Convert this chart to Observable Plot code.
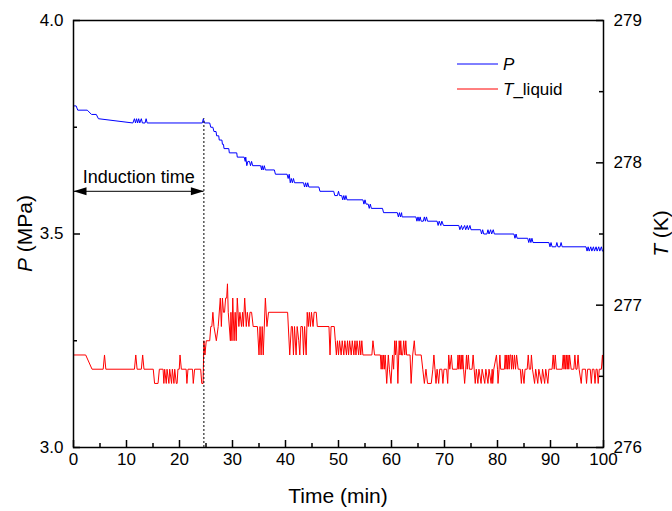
<!DOCTYPE html>
<html><head><meta charset="utf-8">
<script src="https://cdn.jsdelivr.net/npm/d3@7"></script>
<script src="https://cdn.jsdelivr.net/npm/@observablehq/plot@0.6"></script>
<style>body{margin:0;background:#fff}#chart{width:672px;height:511px}</style>
</head><body><div id="chart"></div>
<script>
// ---- data: [time (min), value] ----
const pressure = [
[0,3.80],[0.5,3.80],[0.8,3.79],[2.6,3.79],[3.4,3.78],[4.3,3.78],[4.7,3.77],[11.2,3.76],
[11.5,3.77],[11.7,3.76],[11.9,3.77],[12.1,3.76],[12.3,3.77],[12.5,3.76],[12.8,3.77],[13.0,3.76],[13.5,3.76],[13.7,3.77],[13.9,3.76],
[24.3,3.76],[24.5,3.77],[24.7,3.76],
[25.7,3.76],[25.9,3.75],[26.3,3.75],[26.5,3.74],[26.9,3.74],[27.0,3.73],[27.4,3.73],[27.5,3.72],[28.0,3.72],[28.1,3.71],[28.3,3.71],[28.4,3.70],[29.3,3.70],[29.4,3.69],[30.8,3.69],[30.9,3.68],
[32.2,3.68],[32.4,3.67],[32.5,3.68],[32.7,3.66],[32.9,3.67],[33.2,3.67],[33.4,3.66],[33.6,3.67],[33.8,3.66],
[35.3,3.66],[35.5,3.65],[35.6,3.66],[35.8,3.65],[36.0,3.66],[36.2,3.65],
[37.9,3.65],[38.1,3.64],[40.3,3.64],[40.5,3.63],[40.7,3.64],[40.9,3.62],[41.1,3.63],[41.3,3.62],[41.5,3.63],[41.7,3.62],
[43.4,3.62],[43.6,3.61],[43.8,3.62],[44.0,3.61],[44.2,3.62],[44.4,3.61],
[46.3,3.61],[46.5,3.60],[49.1,3.60],[49.3,3.59],[49.8,3.59],[50.0,3.60],[50.2,3.59],
[50.6,3.59],[50.8,3.58],[51.0,3.59],[51.2,3.58],[51.4,3.59],[51.6,3.58],
[54.6,3.58],[54.8,3.57],[55.0,3.58],[55.2,3.57],[55.6,3.57],[55.8,3.56],[56.0,3.57],[56.2,3.56],[58.3,3.56],[58.5,3.55],
[61.1,3.55],[61.3,3.54],[61.5,3.55],[61.7,3.54],[61.9,3.55],[62.0,3.54],
[64.6,3.54],[64.8,3.53],[65.0,3.54],[65.2,3.53],[65.4,3.54],[65.6,3.53],[66.0,3.53],[66.2,3.54],[66.4,3.53],[66.6,3.54],[66.8,3.53],
[68.6,3.53],[68.8,3.52],[69.0,3.53],[69.3,3.52],[69.5,3.53],[69.8,3.52],
[72.7,3.52],[72.9,3.51],[73.2,3.52],[73.4,3.51],[73.8,3.52],[74.0,3.51],[74.3,3.52],[74.5,3.51],[74.8,3.52],[75.0,3.51],
[76.8,3.51],[77.0,3.50],[77.2,3.51],[77.4,3.50],[78.0,3.50],[78.2,3.51],[78.4,3.50],[78.7,3.51],[78.9,3.50],[79.2,3.51],[79.4,3.50],
[83.1,3.50],[83.3,3.49],[83.5,3.50],[83.7,3.49],
[85.7,3.49],[85.9,3.48],[86.1,3.49],[86.3,3.48],[86.5,3.49],[86.7,3.48],
[89.7,3.48],[89.9,3.47],[90.1,3.48],[90.3,3.47],[91.0,3.47],[91.2,3.48],[91.4,3.47],[91.8,3.47],[92.0,3.48],[92.2,3.47],
[96.7,3.47],[96.9,3.46],[97.1,3.47],[97.3,3.46],[97.6,3.47],[97.8,3.46],[98.1,3.47],[98.3,3.46],[98.6,3.47],[98.8,3.46],[99.1,3.47],[99.3,3.46],[99.6,3.47],[99.8,3.46],[100,3.46]
];
const temperature = [
[0,276.65],[2.3,276.65],[3.5,276.55],[5.6,276.55],[5.85,276.65],[6.1,276.55],
[11.5,276.55],[11.75,276.65],[12.0,276.55],[12.8,276.55],[13.05,276.65],[13.3,276.55],
[15.05,276.55],[15.3,276.45],[15.95,276.45],[16.2,276.55],[16.9,276.55],
[17.05,276.45],[17.2,276.55],[17.5,276.45],[17.65,276.55],[18.0,276.45],[18.15,276.55],[18.5,276.45],[18.65,276.55],[18.95,276.45],[19.1,276.55],[19.4,276.45],[19.55,276.45],[19.7,276.55],
[19.95,276.55],[20.1,276.65],[20.35,276.55],[21.25,276.55],[21.4,276.45],[21.6,276.55],[22.45,276.55],[22.6,276.45],[22.85,276.55],[24.0,276.55],[24.2,276.45],[24.45,276.45],
[24.6,276.75],[24.8,276.65],[25.05,276.75],[25.7,276.75],[25.9,276.85],[26.1,276.85],[26.3,276.95],[26.5,276.85],[26.95,276.75],[27.3,276.85],[27.7,277.05],[27.9,276.85],[28.1,277.05],[28.3,276.95],[28.5,276.95],[28.7,277.05],[28.9,277.05],[29.05,277.15],[29.2,276.95],[29.6,276.75],[29.7,276.95],[29.9,276.75],[30.05,277.05],[30.3,276.75],[30.5,276.95],[30.7,276.75],[30.9,277.05],[31.2,276.85],[31.4,276.95],[31.7,276.85],[31.9,276.95],[32.05,276.85],[32.3,277.05],[32.6,276.85],[32.8,276.95],[33.1,276.85],[33.3,276.95],[33.6,276.95],[33.9,276.85],[34.7,276.85],[35.0,276.65],[35.2,276.85],[35.4,276.65],[35.6,276.85],[35.8,276.65],[36.2,277.05],[36.5,276.85],[36.8,276.95],
[40.4,276.95],[40.8,276.65],[41.1,276.85],[41.3,276.85],[41.5,276.65],[41.7,276.85],[42.0,276.65],[42.2,276.85],[42.5,276.75],[42.7,276.65],[42.9,276.85],[43.2,276.85],[43.4,276.65],[43.6,276.85],[43.9,276.65],[44.1,276.95],[44.3,276.85],[44.5,276.95],[44.7,276.85],[44.9,276.95],[45.2,276.85],[45.4,276.95],[45.8,276.95],[46.0,276.85],[48.2,276.85],[48.4,276.65],[48.6,276.85],[49.2,276.85],[49.4,276.75],
[49.6,276.65],[49.8,276.75],[50.0,276.65],[50.2,276.75],[50.5,276.65],[50.7,276.75],[51.0,276.65],[51.2,276.75],[51.5,276.65],[51.7,276.75],[51.9,276.65],[52.1,276.75],[52.4,276.65],[52.6,276.75],[52.9,276.65],[53.1,276.75],[53.3,276.65],[53.5,276.75],[53.8,276.65],[54.0,276.75],[54.2,276.65],[54.4,276.75],[54.6,276.65],
[56.3,276.65],[56.5,276.75],[56.8,276.65],[57.9,276.65],[58.05,276.55],[58.2,276.65],[58.35,276.55],[58.5,276.65],[58.65,276.55],[58.8,276.65],[58.95,276.55],[59.1,276.45],[59.4,276.65],[59.6,276.55],[59.9,276.45],[60.2,276.65],[60.4,276.55],[60.6,276.75],[60.75,276.65],[60.9,276.75],[61.05,276.65],[61.2,276.45],[61.45,276.75],[61.6,276.65],[61.75,276.75],[61.9,276.65],[62.1,276.65],[62.3,276.75],[62.5,276.65],[62.7,276.75],[62.85,276.65],[63.5,276.65],[63.7,276.45],[64.0,276.65],[64.3,276.75],[64.5,276.65],[65.6,276.65],
[65.9,276.55],[66.2,276.45],[66.5,276.55],[66.8,276.45],[67.5,276.45],[67.8,276.55],[68.0,276.65],[68.2,276.55],[68.4,276.45],[68.6,276.55],[68.9,276.45],[69.1,276.55],[69.5,276.55],[69.7,276.45],[69.9,276.55],[70.4,276.55],[70.6,276.45],[70.8,276.65],[71.0,276.55],[71.3,276.65],[71.5,276.55],
[72.4,276.55],[72.55,276.65],[72.7,276.55],[72.85,276.65],[73.0,276.55],[73.15,276.65],[73.3,276.55],[73.45,276.65],[73.6,276.55],[73.8,276.45],[74.0,276.55],[74.15,276.65],[74.3,276.55],[74.5,276.65],[74.7,276.55],[75.2,276.55],[75.4,276.65],[75.6,276.55],[75.8,276.45],[76.0,276.55],[76.3,276.45],[76.5,276.55],[76.9,276.45],[77.1,276.55],[77.6,276.45],[77.8,276.55],[78.2,276.45],[78.4,276.55],[78.8,276.45],[79.0,276.55],[79.1,276.45],[79.3,276.55],[79.8,276.65],[80.0,276.55],[80.1,276.45],[80.3,276.55],[80.45,276.65],[80.6,276.55],
[81.3,276.55],[81.45,276.65],[81.6,276.55],[81.75,276.65],[81.9,276.55],[82.05,276.65],[82.2,276.55],[82.35,276.65],[82.5,276.65],[82.65,276.55],[82.8,276.65],[83.0,276.55],[83.2,276.65],[83.4,276.55],[83.6,276.65],[83.9,276.55],[84.3,276.55],[84.5,276.45],[84.7,276.55],[85.0,276.45],[85.2,276.55],[85.6,276.55],[85.8,276.65],[86.0,276.55],[86.25,276.55],[86.4,276.65],[86.6,276.55],[87.0,276.45],[87.2,276.55],[87.6,276.45],[87.8,276.55],[88.3,276.45],[88.5,276.55],[88.9,276.45],[89.1,276.55],[89.5,276.45],[89.7,276.55],
[90.3,276.55],[90.5,276.65],[90.7,276.55],[90.9,276.65],[91.1,276.55],[92.2,276.55],[92.4,276.65],[92.55,276.55],[92.7,276.65],[92.85,276.55],[93.0,276.65],[93.15,276.55],[93.3,276.65],[93.45,276.55],[93.6,276.65],[93.9,276.55],[94.4,276.55],[94.6,276.65],[94.8,276.55],[95.0,276.55],[95.2,276.65],[95.4,276.55],[95.8,276.45],[96.0,276.55],[96.6,276.55],[96.8,276.45],[97.0,276.55],[97.5,276.55],[97.7,276.45],[97.9,276.55],[98.2,276.55],[98.4,276.45],[98.6,276.55],[98.8,276.55],[99.0,276.45],[99.2,276.55],[99.6,276.55],[99.8,276.65],[100,276.55]
];
const xMajor = [0,10,20,30,40,50,60,70,80,90,100];
const xMinor = [5,15,25,35,45,55,65,75,85,95];
const pMajor = [3.0,3.5,4.0];
const pMinor = [3.25,3.75];
const tMajor = [276,277,278,279];
const tMinor = [276.5,277.5,278.5];
const inductionEnd = 24.6;   // min
const arrowLevel = 3.6;      // MPa
const dashTop = 3.77;        // MPa
const seriesNames = ["P", "T_liquid"];
const seriesColors = ["#0000ff", "#ff0000"];

// ---- layout ----
const W = 672, H = 511, mL = 73, mR = 69, mT = 20, mB = 64;
const innerW = W - mL - mR, innerH = H - mT - mB;
const FONT = "'Liberation Sans', Arial, Helvetica, sans-serif";
// right axis (K) mapped onto the left axis (MPa): 276 K -> 3.0 MPa, 279 K -> 4.0 MPa
const tToP = t => 3 + (t - 276) / 3;
const pToT = p => 276 + (p - 3) * 3;

const arrowLeft = {draw(c){c.moveTo(0,0);c.lineTo(13,-4);c.lineTo(13,4);c.closePath();}};
const arrowRight = {draw(c){c.moveTo(0,0);c.lineTo(-13,-4);c.lineTo(-13,4);c.closePath();}};

const chart = Plot.plot({
  width: W, height: H,
  marginLeft: mL, marginRight: mR, marginTop: mT, marginBottom: mB,
  x: {domain: [0, 100]},
  y: {domain: [3, 4]},
  style: {fontFamily: FONT, fontSize: "17px", background: "#fff", color: "#000"},
  marks: [
    Plot.line(pressure, {x: d => d[0], y: d => d[1], stroke: seriesColors[0], strokeWidth: 1}),
    Plot.line(temperature, {x: d => d[0], y: d => tToP(d[1]), stroke: seriesColors[1], strokeWidth: 1}),
    Plot.ruleX([inductionEnd], {y1: 3, y2: dashTop, stroke: "#000", strokeWidth: 1, strokeDasharray: "2,2"}),
    Plot.ruleY([arrowLevel], {x1: 0, x2: inductionEnd, stroke: "#000", strokeWidth: 1}),
    Plot.dot([0], {x: d => d, y: arrowLevel, symbol: arrowLeft, fill: "#000", stroke: "none"}),
    Plot.dot([inductionEnd], {x: d => d, y: arrowLevel, symbol: arrowRight, fill: "#000", stroke: "none"}),
    Plot.text(["Induction time"], {x: inductionEnd / 2, y: arrowLevel, dy: -14, text: d => d, fontSize: 18, fill: "#000"}),
    // inward ticks
    Plot.tickX(xMajor, {x: d => d, insetTop: innerH - 7, stroke: "#000", strokeWidth: 1.5}),
    Plot.tickX(xMinor, {x: d => d, insetTop: innerH - 4, stroke: "#000", strokeWidth: 1.5}),
    Plot.tickY(pMajor, {y: d => d, insetRight: innerW - 7, stroke: "#000", strokeWidth: 1.5}),
    Plot.tickY(pMinor, {y: d => d, insetRight: innerW - 4, stroke: "#000", strokeWidth: 1.5}),
    Plot.tickY(tMajor, {y: d => tToP(d), insetLeft: innerW - 7, stroke: "#000", strokeWidth: 1.5}),
    Plot.tickY(tMinor, {y: d => tToP(d), insetLeft: innerW - 4, stroke: "#000", strokeWidth: 1.5}),
    Plot.axisX(xMajor, {tickSize: 0, tickPadding: 5, label: null, fill: "#000", fontSize: 17}),
    Plot.axisY(pMajor, {anchor: "left", tickSize: 0, tickPadding: 10, tickFormat: d3.format(".1f"), label: null, fill: "#000", fontSize: 17}),
    Plot.axisY(tMajor.map(tToP), {anchor: "right", tickSize: 0, tickPadding: 10, tickFormat: p => String(Math.round(pToT(p))), label: null, fill: "#000", fontSize: 17}),
    Plot.frame({stroke: "#000", strokeWidth: 1.5})
  ]
});

const svg = d3.select(chart);
const tx = (attrs) => { const t = svg.append("text").attr("font-family", FONT).attr("fill", "#000"); for (const k in attrs) t.attr(k, attrs[k]); return t; };
// x title
tx({x: mL + innerW / 2, y: 503, "text-anchor": "middle", "font-size": 21}).text("Time (min)");
// left title
const lt = tx({transform: `translate(32,${mT + innerH / 2}) rotate(-90)`, "text-anchor": "middle", "font-size": 21});
lt.append("tspan").attr("font-style", "italic").text("P");
lt.append("tspan").text(" (MPa)");
// right title
const rt = tx({transform: `translate(668,${mT + innerH / 2}) rotate(-90)`, "text-anchor": "middle", "font-size": 21});
rt.append("tspan").attr("font-style", "italic").text("T");
rt.append("tspan").text(" (K)");
// legend
const legY = [64, 89];
seriesNames.forEach((name, i) => {
  svg.append("line").attr("x1", 457).attr("x2", 498).attr("y1", legY[i]).attr("y2", legY[i]).attr("stroke", seriesColors[i]).attr("stroke-width", 1);
  const t = tx({x: 503, y: legY[i] + 6, "font-size": 17, "text-anchor": "start"});
  t.append("tspan").attr("font-style", "italic").text(name.slice(0, 1));
  t.append("tspan").text(name.slice(1));
});

document.getElementById("chart").appendChild(chart);
</script>
</body></html>
